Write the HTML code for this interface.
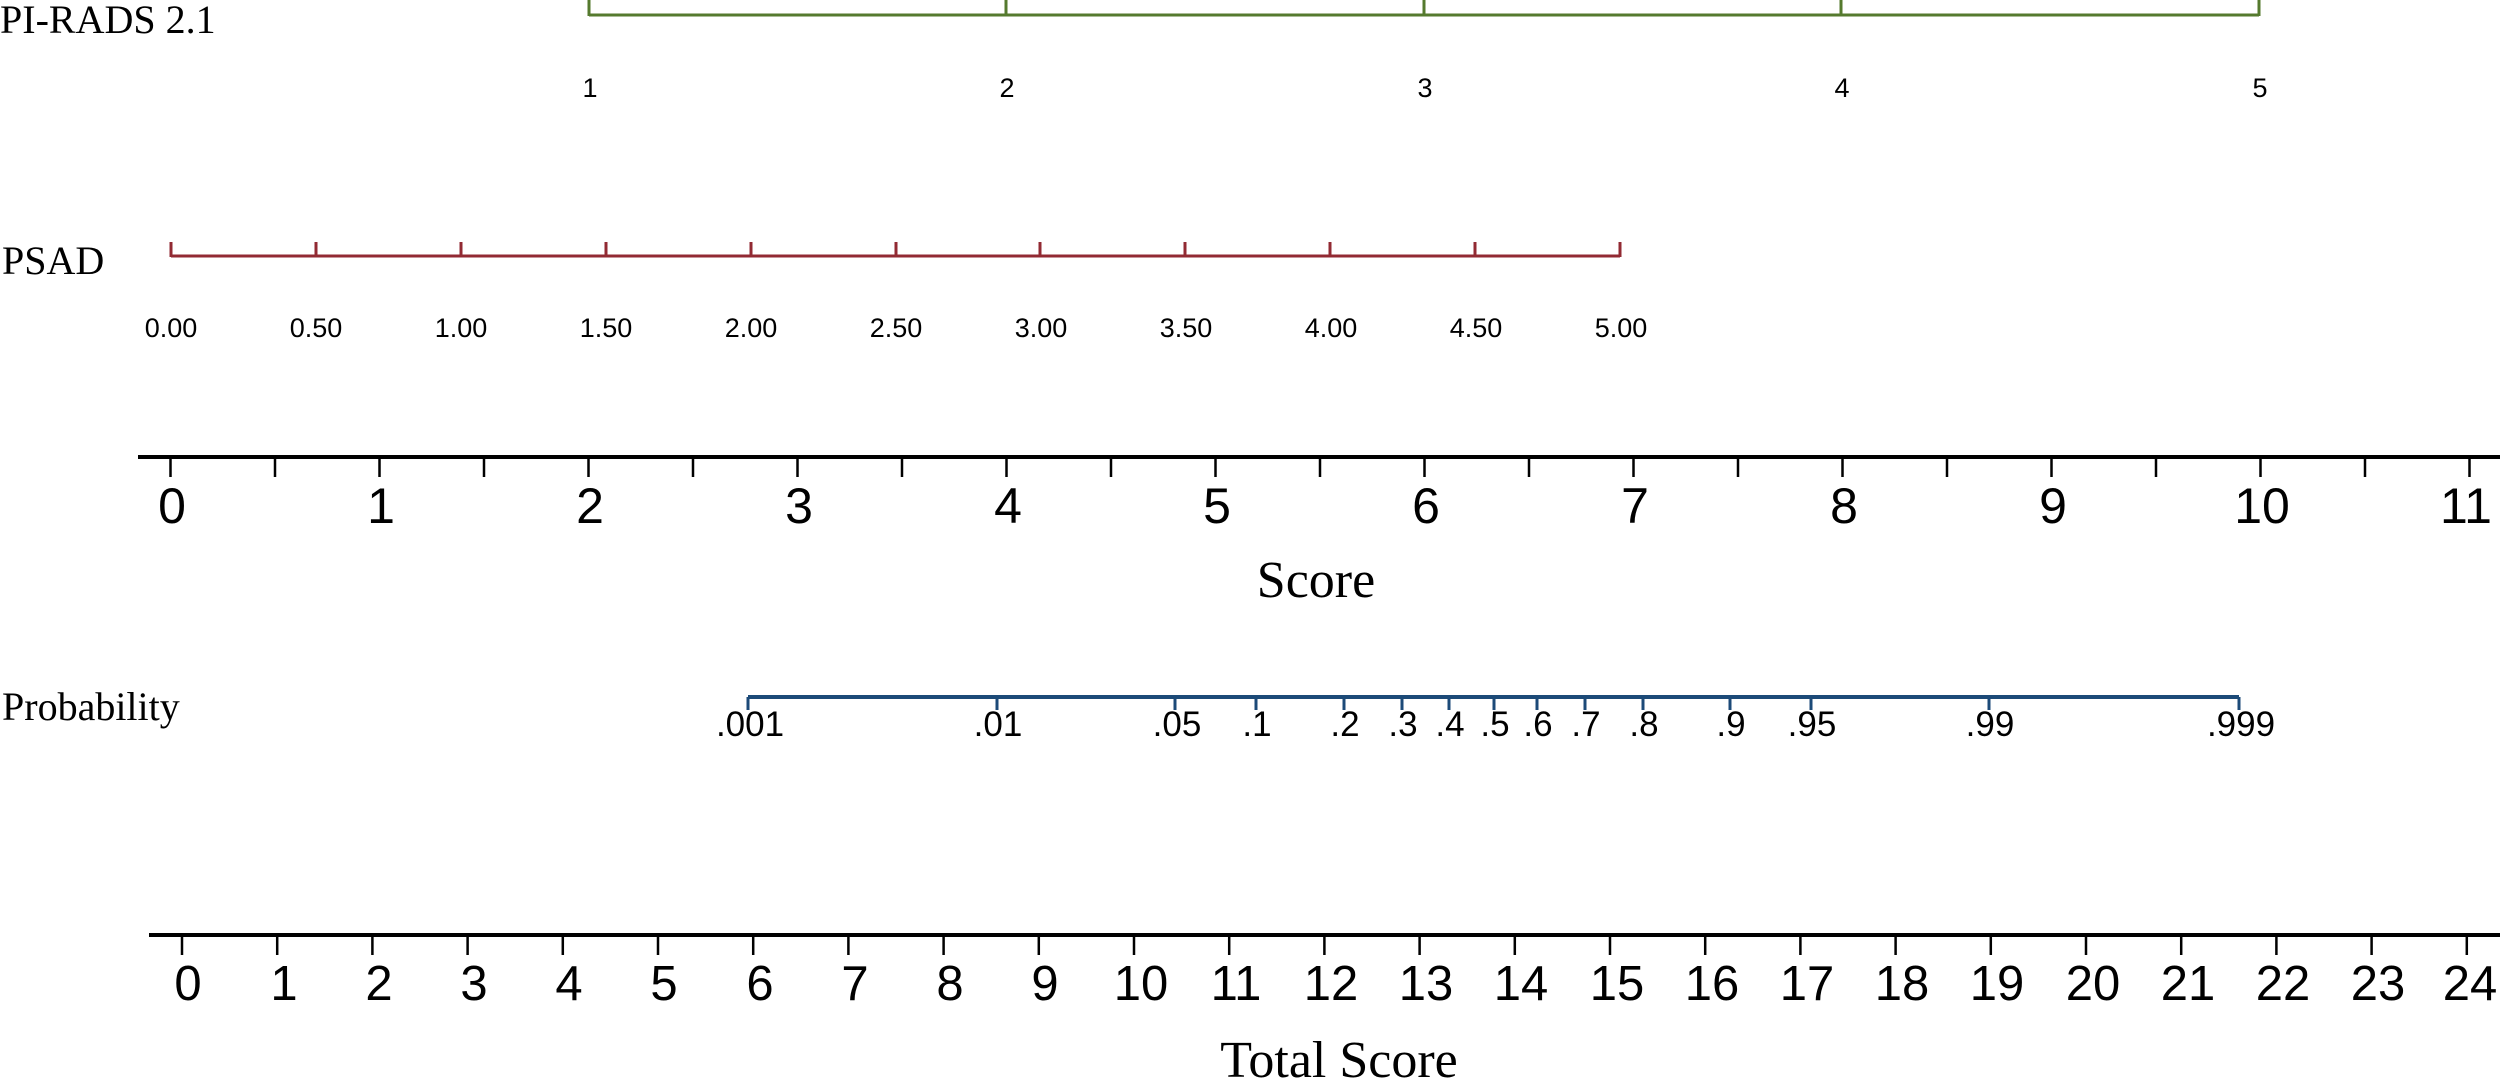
<!DOCTYPE html>
<html><head><meta charset="utf-8"><style>html,body{margin:0;padding:0;background:#fff;}svg{display:block;}</style></head>
<body>
<svg width="2500" height="1082" viewBox="0 0 2500 1082" xmlns="http://www.w3.org/2000/svg">
<g font-family="Liberation Serif, serif" fill="#000">
<text x="0" y="33" font-size="40">PI-RADS 2.1</text>
<text x="2" y="274" font-size="40">PSAD</text>
<text x="1316" y="597" font-size="52" text-anchor="middle">Score</text>
<text x="2" y="720" font-size="40">Probability</text>
<text x="1339" y="1077" font-size="52" text-anchor="middle">Total Score</text>
</g>
<!-- PI-RADS -->
<g stroke="#557a2e" stroke-width="3" fill="none">
<line x1="589" y1="15" x2="2259" y2="15"/>
<line x1="589" y1="0" x2="589" y2="16"/><line x1="1006" y1="0" x2="1006" y2="16"/><line x1="1424" y1="0" x2="1424" y2="16"/><line x1="1841" y1="0" x2="1841" y2="16"/><line x1="2259" y1="0" x2="2259" y2="16"/>
</g>
<g font-family="Liberation Sans, sans-serif" font-size="27" text-anchor="middle">
<text x="590" y="97">1</text><text x="1007" y="97">2</text><text x="1425" y="97">3</text><text x="1842" y="97">4</text><text x="2260" y="97">5</text>
</g>
<!-- PSAD -->
<g stroke="#922a33" stroke-width="3" fill="none">
<line x1="171" y1="256" x2="1620" y2="256"/>
<line x1="171" y1="242" x2="171" y2="257"/><line x1="316" y1="242" x2="316" y2="257"/><line x1="461" y1="242" x2="461" y2="257"/><line x1="606" y1="242" x2="606" y2="257"/><line x1="751" y1="242" x2="751" y2="257"/><line x1="896" y1="242" x2="896" y2="257"/><line x1="1040" y1="242" x2="1040" y2="257"/><line x1="1185" y1="242" x2="1185" y2="257"/><line x1="1330" y1="242" x2="1330" y2="257"/><line x1="1475" y1="242" x2="1475" y2="257"/><line x1="1620" y1="242" x2="1620" y2="257"/>
</g>
<g font-family="Liberation Sans, sans-serif" font-size="27" text-anchor="middle">
<text x="171" y="337">0.00</text><text x="316" y="337">0.50</text><text x="461" y="337">1.00</text><text x="606" y="337">1.50</text><text x="751" y="337">2.00</text><text x="896" y="337">2.50</text><text x="1041" y="337">3.00</text><text x="1186" y="337">3.50</text><text x="1331" y="337">4.00</text><text x="1476" y="337">4.50</text><text x="1621" y="337">5.00</text>
</g>
<!-- Score axis -->
<g stroke="#000" fill="none">
<line x1="138" y1="457" x2="2500" y2="457" stroke-width="4"/>
<g stroke-width="2.5">
<line x1="170.5" y1="457" x2="170.5" y2="477"/><line x1="275" y1="457" x2="275" y2="477"/><line x1="379.5" y1="457" x2="379.5" y2="477"/><line x1="484" y1="457" x2="484" y2="477"/><line x1="588.5" y1="457" x2="588.5" y2="477"/><line x1="693" y1="457" x2="693" y2="477"/><line x1="797.5" y1="457" x2="797.5" y2="477"/><line x1="902" y1="457" x2="902" y2="477"/><line x1="1006.5" y1="457" x2="1006.5" y2="477"/><line x1="1111" y1="457" x2="1111" y2="477"/><line x1="1215.5" y1="457" x2="1215.5" y2="477"/><line x1="1320" y1="457" x2="1320" y2="477"/><line x1="1424.5" y1="457" x2="1424.5" y2="477"/><line x1="1529" y1="457" x2="1529" y2="477"/><line x1="1633.5" y1="457" x2="1633.5" y2="477"/><line x1="1738" y1="457" x2="1738" y2="477"/><line x1="1842.5" y1="457" x2="1842.5" y2="477"/><line x1="1947" y1="457" x2="1947" y2="477"/><line x1="2051.5" y1="457" x2="2051.5" y2="477"/><line x1="2156" y1="457" x2="2156" y2="477"/><line x1="2260.5" y1="457" x2="2260.5" y2="477"/><line x1="2365" y1="457" x2="2365" y2="477"/><line x1="2469.5" y1="457" x2="2469.5" y2="477"/>
</g></g>
<g font-family="Liberation Sans, sans-serif" font-size="50" text-anchor="middle">
<text x="172" y="523">0</text><text x="381" y="523">1</text><text x="590" y="523">2</text><text x="799" y="523">3</text><text x="1008" y="523">4</text><text x="1217" y="523">5</text><text x="1426" y="523">6</text><text x="1635" y="523">7</text><text x="1844" y="523">8</text><text x="2053" y="523">9</text><text x="2262" y="523">10</text><text x="2466" y="523">11</text>
</g>
<!-- Probability -->
<g stroke="#1c4a78" fill="none">
<line x1="748" y1="697" x2="2239" y2="697" stroke-width="4"/>
<g stroke-width="3">
<line x1="748" y1="697" x2="748" y2="710"/><line x1="997" y1="697" x2="997" y2="710"/><line x1="1175" y1="697" x2="1175" y2="710"/><line x1="1256" y1="697" x2="1256" y2="710"/><line x1="1344" y1="697" x2="1344" y2="710"/><line x1="1402" y1="697" x2="1402" y2="710"/><line x1="1449" y1="697" x2="1449" y2="710"/><line x1="1494" y1="697" x2="1494" y2="710"/><line x1="1537" y1="697" x2="1537" y2="710"/><line x1="1585" y1="697" x2="1585" y2="710"/><line x1="1643" y1="697" x2="1643" y2="710"/><line x1="1730" y1="697" x2="1730" y2="710"/><line x1="1811" y1="697" x2="1811" y2="710"/><line x1="1989" y1="697" x2="1989" y2="710"/><line x1="2239" y1="697" x2="2239" y2="710"/>
</g></g>
<g font-family="Liberation Sans, sans-serif" font-size="35" text-anchor="middle">
<text x="750" y="736">.001</text><text x="998" y="736">.01</text><text x="1177" y="736">.05</text><text x="1257" y="736">.1</text><text x="1345" y="736">.2</text><text x="1403" y="736">.3</text><text x="1450" y="736">.4</text><text x="1495" y="736">.5</text><text x="1538" y="736">.6</text><text x="1586" y="736">.7</text><text x="1644" y="736">.8</text><text x="1731" y="736">.9</text><text x="1812" y="736">.95</text><text x="1990" y="736">.99</text><text x="2241" y="736">.999</text>
</g>
<!-- Total score axis -->
<g stroke="#000" fill="none">
<line x1="149" y1="935" x2="2500" y2="935" stroke-width="4"/>
<g stroke-width="2.5">
<line x1="182" y1="935" x2="182" y2="955"/><line x1="277.2" y1="935" x2="277.2" y2="955"/><line x1="372.4" y1="935" x2="372.4" y2="955"/><line x1="467.6" y1="935" x2="467.6" y2="955"/><line x1="562.8" y1="935" x2="562.8" y2="955"/><line x1="658" y1="935" x2="658" y2="955"/><line x1="753.2" y1="935" x2="753.2" y2="955"/><line x1="848.4" y1="935" x2="848.4" y2="955"/><line x1="943.6" y1="935" x2="943.6" y2="955"/><line x1="1038.8" y1="935" x2="1038.8" y2="955"/><line x1="1134" y1="935" x2="1134" y2="955"/><line x1="1229.2" y1="935" x2="1229.2" y2="955"/><line x1="1324.4" y1="935" x2="1324.4" y2="955"/><line x1="1419.6" y1="935" x2="1419.6" y2="955"/><line x1="1514.8" y1="935" x2="1514.8" y2="955"/><line x1="1610" y1="935" x2="1610" y2="955"/><line x1="1705.2" y1="935" x2="1705.2" y2="955"/><line x1="1800.4" y1="935" x2="1800.4" y2="955"/><line x1="1895.6" y1="935" x2="1895.6" y2="955"/><line x1="1990.8" y1="935" x2="1990.8" y2="955"/><line x1="2086" y1="935" x2="2086" y2="955"/><line x1="2181.2" y1="935" x2="2181.2" y2="955"/><line x1="2276.4" y1="935" x2="2276.4" y2="955"/><line x1="2371.6" y1="935" x2="2371.6" y2="955"/><line x1="2466.8" y1="935" x2="2466.8" y2="955"/>
</g></g>
<g font-family="Liberation Sans, sans-serif" font-size="49" text-anchor="middle">
<text x="188" y="1000">0</text><text x="284" y="1000">1</text><text x="379" y="1000">2</text><text x="474" y="1000">3</text><text x="569" y="1000">4</text><text x="664" y="1000">5</text><text x="760" y="1000">6</text><text x="855" y="1000">7</text><text x="950" y="1000">8</text><text x="1045" y="1000">9</text><text x="1141" y="1000">10</text><text x="1236" y="1000">11</text><text x="1331" y="1000">12</text><text x="1426" y="1000">13</text><text x="1521" y="1000">14</text><text x="1617" y="1000">15</text><text x="1712" y="1000">16</text><text x="1807" y="1000">17</text><text x="1902" y="1000">18</text><text x="1997" y="1000">19</text><text x="2093" y="1000">20</text><text x="2188" y="1000">21</text><text x="2283" y="1000">22</text><text x="2378" y="1000">23</text><text x="2470" y="1000">24</text>
</g>
</svg>
</body></html>
